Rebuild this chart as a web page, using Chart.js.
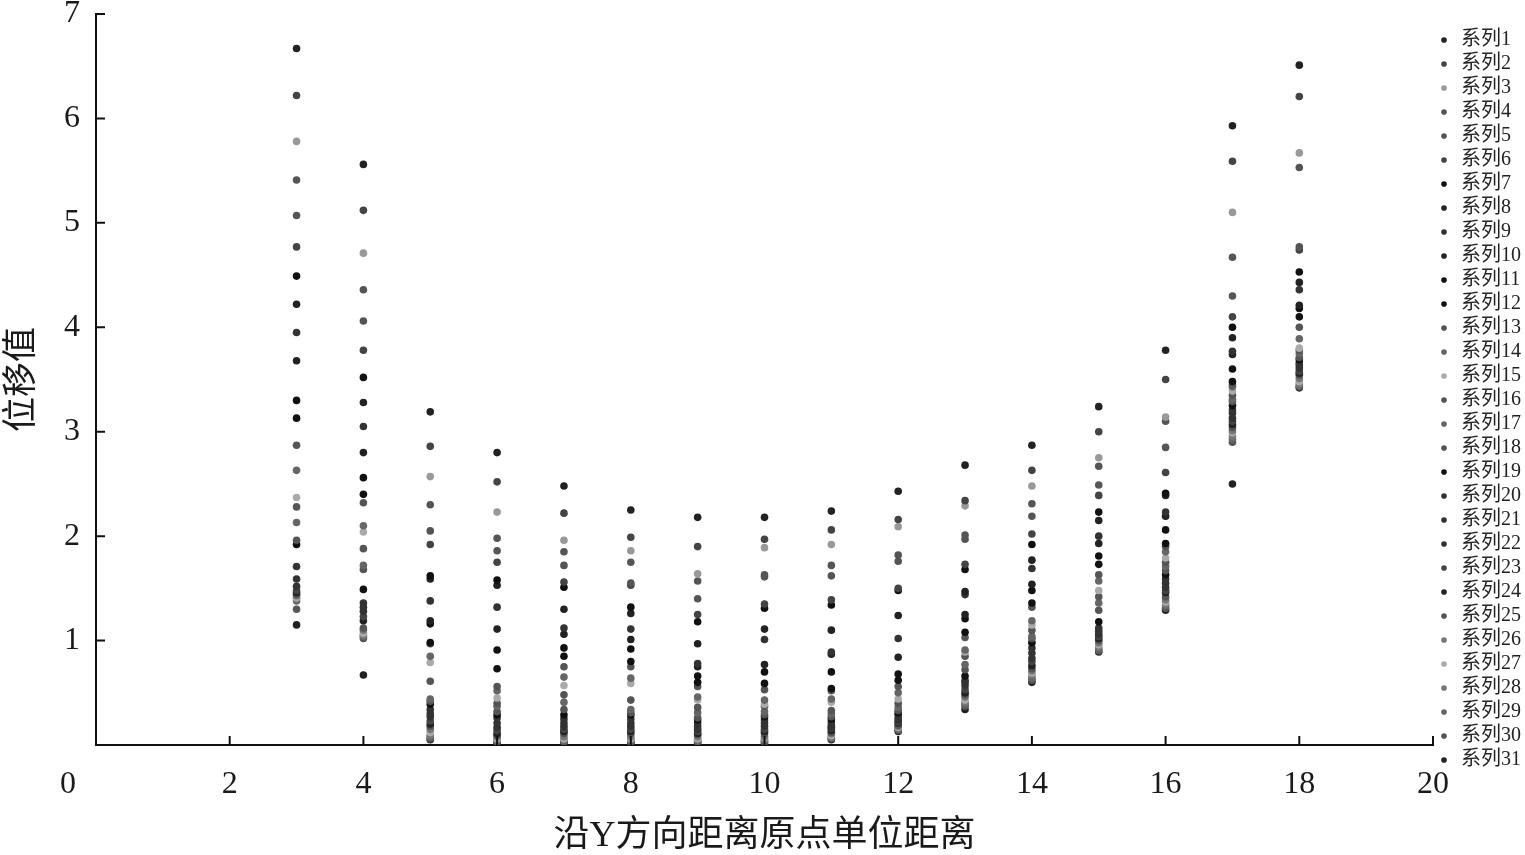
<!DOCTYPE html>
<html>
<head>
<meta charset="utf-8">
<title>位移值</title>
<script src="https://cdn.jsdelivr.net/npm/chart.js@4.4.1/dist/chart.umd.min.js"></script>
<style>
  html, body { margin: 0; padding: 0; background: #fff; }
</style>
</head>
<body>
<canvas id="chartdiv" width="1525" height="855"></canvas>
<script>
// x positions (distance along Y from origin)
var xValues = [3, 4, 5, 6, 7, 8, 9, 10, 11, 12, 13, 14, 15, 16, 17, 18];

// displacement of series 1..31 at each x
var col3  = [6.67, 6.22, 5.78, 5.41, 5.07, 4.77, 4.49, 4.22, 3.95, 3.68, 3.30, 3.13, 2.87, 2.63, 2.37, 2.28, 2.13, 1.96, 1.92, 1.71, 1.59, 1.52, 1.48, 1.46, 1.44, 1.43, 1.41, 1.40, 1.38, 1.30, 1.15];
var col4  = [5.56, 5.12, 4.71, 4.36, 4.06, 3.78, 3.52, 3.28, 3.05, 2.80, 2.56, 2.40, 2.32, 2.10, 2.04, 1.88, 1.72, 1.68, 1.49, 1.36, 1.32, 1.28, 1.23, 1.19, 1.12, 1.10, 1.07, 1.05, 1.04, 1.02, 0.67];
var col5  = [3.19, 2.86, 2.57, 2.30, 2.05, 1.92, 1.62, 1.59, 1.38, 1.19, 1.16, 0.98, 0.97, 0.85, 0.79, 0.61, 0.44, 0.42, 0.39, 0.34, 0.30, 0.27, 0.23, 0.20, 0.18, 0.15, 0.12, 0.09, 0.08, 0.06, 0.05];
var col6  = [2.80, 2.52, 2.23, 1.98, 1.86, 1.75, 1.58, 1.53, 1.32, 1.11, 0.91, 0.73, 0.56, 0.52, 0.45, 0.40, 0.37, 0.32, 0.29, 0.26, 0.21, 0.17, 0.14, 0.11, 0.09, 0.08, 0.06, 0.05, 0.04, 0.03, 0.02];
var col7  = [2.48, 2.22, 1.96, 1.85, 1.72, 1.56, 1.51, 1.30, 1.12, 1.06, 0.93, 0.85, 0.75, 0.65, 0.57, 0.48, 0.41, 0.34, 0.29, 0.25, 0.21, 0.18, 0.15, 0.13, 0.11, 0.08, 0.06, 0.05, 0.04, 0.03, 0.02];
var col8  = [2.25, 1.99, 1.86, 1.75, 1.55, 1.53, 1.32, 1.26, 1.11, 1.01, 0.92, 0.80, 0.75, 0.64, 0.59, 0.43, 0.34, 0.31, 0.29, 0.25, 0.21, 0.18, 0.15, 0.13, 0.11, 0.08, 0.06, 0.05, 0.04, 0.03, 0.02];
var col9  = [2.18, 1.90, 1.64, 1.57, 1.40, 1.25, 1.18, 0.97, 0.78, 0.75, 0.66, 0.60, 0.56, 0.46, 0.43, 0.36, 0.31, 0.26, 0.24, 0.21, 0.18, 0.15, 0.13, 0.11, 0.10, 0.08, 0.06, 0.05, 0.04, 0.03, 0.02];
var col10 = [2.18, 1.97, 1.89, 1.63, 1.61, 1.35, 1.31, 1.11, 1.01, 0.77, 0.70, 0.59, 0.53, 0.43, 0.39, 0.37, 0.32, 0.29, 0.27, 0.24, 0.21, 0.18, 0.15, 0.13, 0.11, 0.08, 0.07, 0.05, 0.04, 0.03, 0.02];
var col11 = [2.24, 2.06, 1.92, 1.72, 1.62, 1.39, 1.34, 1.10, 0.89, 0.87, 0.70, 0.54, 0.52, 0.44, 0.41, 0.33, 0.30, 0.27, 0.25, 0.22, 0.19, 0.17, 0.16, 0.14, 0.12, 0.11, 0.09, 0.08, 0.07, 0.06, 0.05];
var col12 = [2.43, 2.16, 2.09, 1.82, 1.76, 1.50, 1.48, 1.24, 1.02, 0.84, 0.68, 0.62, 0.56, 0.50, 0.44, 0.40, 0.36, 0.33, 0.31, 0.29, 0.26, 0.24, 0.22, 0.21, 0.19, 0.18, 0.17, 0.16, 0.15, 0.14, 0.13];
var col13 = [2.68, 2.34, 2.29, 2.01, 1.97, 1.73, 1.68, 1.47, 1.44, 1.25, 1.21, 1.08, 1.03, 0.91, 0.89, 0.85, 0.77, 0.72, 0.66, 0.62, 0.60, 0.57, 0.53, 0.50, 0.48, 0.46, 0.43, 0.41, 0.39, 0.37, 0.34];
var col14 = [2.87, 2.63, 2.48, 2.31, 2.19, 2.02, 1.92, 1.77, 1.69, 1.54, 1.48, 1.36, 1.32, 1.19, 1.15, 1.10, 1.04, 1.02, 0.98, 0.93, 0.88, 0.83, 0.80, 0.76, 0.73, 0.71, 0.69, 0.67, 0.64, 0.62, 0.60];
var col15 = [3.24, 3.00, 2.75, 2.67, 2.49, 2.39, 2.23, 2.15, 2.00, 1.93, 1.81, 1.73, 1.63, 1.57, 1.48, 1.42, 1.36, 1.29, 1.18, 1.12, 1.09, 1.06, 1.04, 1.02, 1.00, 0.98, 0.96, 0.94, 0.92, 0.90, 0.89];
var col16 = [3.78, 3.50, 3.14, 3.10, 2.85, 2.61, 2.41, 2.39, 2.23, 2.19, 2.06, 1.93, 1.90, 1.85, 1.79, 1.75, 1.71, 1.67, 1.63, 1.59, 1.55, 1.51, 1.48, 1.46, 1.42, 1.39, 1.37, 1.35, 1.33, 1.31, 1.29];
var col17 = [5.93, 5.59, 5.10, 4.67, 4.30, 4.10, 4.00, 3.90, 3.77, 3.74, 3.60, 3.48, 3.45, 3.43, 3.39, 3.35, 3.31, 3.29, 3.25, 3.21, 3.18, 3.13, 3.10, 3.07, 3.04, 3.01, 2.99, 2.96, 2.93, 2.90, 2.50];
var col18 = [6.51, 6.21, 5.67, 5.53, 4.77, 4.74, 4.53, 4.43, 4.36, 4.21, 4.18, 4.10, 4.00, 3.89, 3.80, 3.78, 3.75, 3.71, 3.69, 3.66, 3.64, 3.61, 3.58, 3.56, 3.54, 3.51, 3.48, 3.46, 3.44, 3.43, 3.42];

var columns = [col3, col4, col5, col6, col7, col8, col9, col10, col11, col12, col13, col14, col15, col16, col17, col18];

// grey shade of each series (from the legend)
var shades = ['#222', '#444', '#999', '#555', '#555', '#444', '#111', '#222', '#333', '#222',
              '#111', '#111', '#555', '#666', '#aaa', '#555', '#666', '#555', '#111', '#333',
              '#333', '#333', '#444', '#222', '#555', '#777', '#aaa', '#777', '#666', '#555', '#222'];

var serif = '"Liberation Serif", "Times New Roman", "Noto Sans CJK SC", serif';

var datasets = shades.map(function (c, i) {
  return {
    label: '系列' + (i + 1),
    data: xValues.map(function (x, j) { return { x: x, y: columns[j][i] }; }),
    backgroundColor: c,
    borderColor: c,
    pointRadius: 3.8,
    pointHoverRadius: 3.8,
    pointBorderWidth: 0,
    showLine: false
  };
});

// tick marks point into the plot, and the lone "0" sits left of the axis
var innerTicks = {
  id: 'innerTicks',
  afterDraw: function (chart) {
    var ctx = chart.ctx, xs = chart.scales.x, ys = chart.scales.y;
    ctx.save();
    ctx.strokeStyle = '#111';
    ctx.lineWidth = 2;
    ctx.beginPath();
    xs.ticks.forEach(function (t) {
      if (t.value === 0) return;
      var px = xs.getPixelForValue(t.value);
      ctx.moveTo(px, ys.bottom);
      ctx.lineTo(px, ys.bottom - 9);
    });
    ys.ticks.forEach(function (t) {
      if (t.value === 0) return;
      var py = ys.getPixelForValue(t.value);
      ctx.moveTo(xs.left, py);
      ctx.lineTo(xs.left + 9, py);
    });
    ctx.stroke();
    ctx.fillStyle = '#1a1a1a';
    ctx.font = '32px ' + serif;
    ctx.textAlign = 'center';
    ctx.textBaseline = 'middle';
    ctx.fillText('0', xs.left - 28, xs.top + 40);
    ctx.restore();
  }
};

var ctx = document.querySelector('#chartdiv');

var myChart = new Chart(ctx, {
  type: 'scatter',
  data: { datasets: datasets },
  plugins: [innerTicks],
  options: {
    responsive: false,
    animation: false,
    layout: { padding: 0 },
    plugins: {
      tooltip: { enabled: false },
      legend: {
        position: 'right',
        align: 'start',
        maxWidth: 92,
        // empty title only pushes the list down
        title: { display: true, text: '', font: { size: 5 }, padding: { top: 0, bottom: 20 } },
        labels: {
          usePointStyle: true,
          pointStyle: 'circle',
          boxWidth: 14,
          boxHeight: 4,
          padding: 4,
          color: '#222',
          font: { family: serif, size: 20 }
        }
      }
    },
    scales: {
      x: {
        type: 'linear',
        min: 0,
        max: 20,
        afterFit: function (scale) { scale.height = 110; },
        grid: { display: false, drawTicks: false },
        border: { display: true, color: '#111', width: 2 },
        ticks: {
          stepSize: 2,
          padding: 27,
          color: '#1a1a1a',
          font: { family: serif, size: 32, lineHeight: 0.8 },
          callback: function (v) { return v === 0 ? '' : v; }
        },
        title: {
          display: true,
          text: '沿Y方向距离原点单位距离',
          color: '#1a1a1a',
          padding: { top: 0, bottom: 0 },
          font: { family: serif, size: 36, lineHeight: 1.05 }
        }
      },
      y: {
        min: 0,
        max: 7,
        afterFit: function (scale) {
          scale.width = 96;
          scale.paddingTop = 14;
        },
        grid: { display: false, drawTicks: false },
        border: { display: true, color: '#111', width: 2 },
        ticks: {
          stepSize: 1,
          padding: 16,
          color: '#1a1a1a',
          font: { family: serif, size: 32, lineHeight: 0.8 },
          callback: function (v) { return v === 0 ? '' : v; }
        },
        title: {
          display: true,
          text: '位移值',
          color: '#1a1a1a',
          padding: 2,
          font: { family: serif, size: 35 }
        }
      }
    }
  }
});
</script>
</body>
</html>
